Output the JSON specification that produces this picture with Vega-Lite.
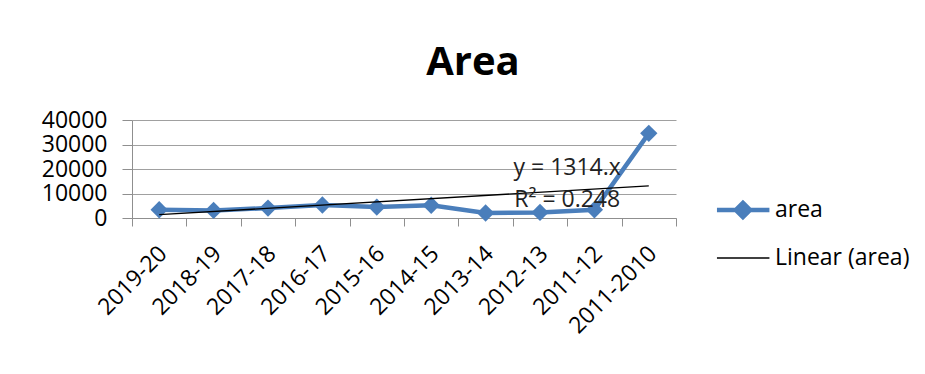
{
  "$schema": "https://vega.github.io/schema/vega-lite/v6.json",
  "width": 544,
  "height": 98,
  "autosize": {"type": "none"},
  "padding": {"left": 132, "top": 120, "right": 249, "bottom": 156},
  "background": "white",
  "config": {
    "font": "Open Sans",
    "view": {"stroke": null},
    "axis": {"labelColor": "#000000", "labelFont": "Open Sans", "labelFontSize": 23, "domainColor": "#8f8f8f", "tickColor": "#8f8f8f", "gridColor": "#a0a0a0", "domainWidth": 1, "tickWidth": 1, "gridWidth": 1}
  },
  "title": {"text": "Area", "fontSize": 40, "fontWeight": "bold", "font": "Open Sans", "color": "#000000", "anchor": "middle", "dx": 69, "offset": -6, "baseline": "alphabetic"},
  "datasets": {
    "series": [
      {"period": "2019-20", "area": 3370},
      {"period": "2018-19", "area": 3100},
      {"period": "2017-18", "area": 4060},
      {"period": "2016-17", "area": 5300},
      {"period": "2015-16", "area": 4470},
      {"period": "2014-15", "area": 5200},
      {"period": "2013-14", "area": 2050},
      {"period": "2012-13", "area": 2280},
      {"period": "2011-12", "area": 3370},
      {"period": "2011-2010", "area": 34550}
    ],
    "trend": [
      {"period": "2019-20", "area": 1340},
      {"period": "2011-2010", "area": 13130}
    ],
    "notes": [
      {"period": "2012-13", "area": 17400, "label": "y = 1314.x"},
      {"period": "2012-13", "area": 4400, "label": "R² = 0.248"}
    ]
  },
  "encoding": {
    "x": {
      "field": "period", "type": "nominal", "sort": null,
      "scale": {"domain": ["2019-20", "2018-19", "2017-18", "2016-17", "2015-16", "2014-15", "2013-14", "2012-13", "2011-12", "2011-2010"], "paddingInner": 0, "paddingOuter": 0},
      "axis": {"title": null, "tickBand": "extent", "tickSize": 8, "labelAngle": -45, "labelAlign": "right", "labelBaseline": "top", "labelPadding": 16, "labelOffset": -4, "grid": false}
    },
    "y": {
      "field": "area", "type": "quantitative",
      "scale": {"domain": [0, 40000], "nice": false},
      "axis": {"title": null, "values": [0, 10000, 20000, 30000, 40000], "format": "d", "tickSize": 10, "labelPadding": 15, "grid": true}
    }
  },
  "layer": [
    {
      "data": {"name": "series"},
      "mark": {"type": "line", "strokeWidth": 4.5},
      "encoding": {
        "color": {
          "datum": "area",
          "type": "nominal",
          "scale": {"domain": ["area", "Linear (area)"], "range": ["#4a7ebb", "#000000"]},
          "legend": {
            "title": null,
            "orient": "none",
            "legendX": 583,
            "legendY": 67,
            "symbolType": "stroke",
            "symbolSize": 2809,
            "clipHeight": 46,
            "rowPadding": 2,
            "labelFontSize": 23,
            "labelFont": "Open Sans",
            "labelColor": "#000000",
            "labelOffset": 37,
            "padding": 0,
            "encode": {
              "symbols": {
                "update": {
                  "shape": {"signal": "datum.value === 'area' ? 'M-0.36,0L1.62,0M0.62,-0.27L0.89,0L0.62,0.27L0.35,0Z' : 'M-0.36,0L1.62,0'"},
                  "strokeWidth": {"signal": "datum.value === 'area' ? 4.5 : 1.3"},
                  "fill": {"signal": "datum.value === 'area' ? '#4a7ebb' : 'transparent'"},
                  "fillOpacity": {"value": 1}
                }
              }
            }
          }
        }
      }
    },
    {
      "data": {"name": "series"},
      "mark": {"type": "point", "shape": "diamond", "filled": true, "size": 300, "color": "#4a7ebb", "opacity": 1}
    },
    {
      "data": {"name": "trend"},
      "mark": {"type": "line", "strokeWidth": 1.3},
      "encoding": {"color": {"datum": "Linear (area)", "type": "nominal"}}
    },
    {
      "data": {"name": "notes"},
      "mark": {"type": "text", "fontSize": 23, "font": "Open Sans", "color": "#222222", "align": "center", "baseline": "alphabetic"},
      "encoding": {
        "x": {"field": "period", "type": "nominal", "sort": null, "bandPosition": 1},
        "text": {"field": "label"}
      }
    }
  ]
}
